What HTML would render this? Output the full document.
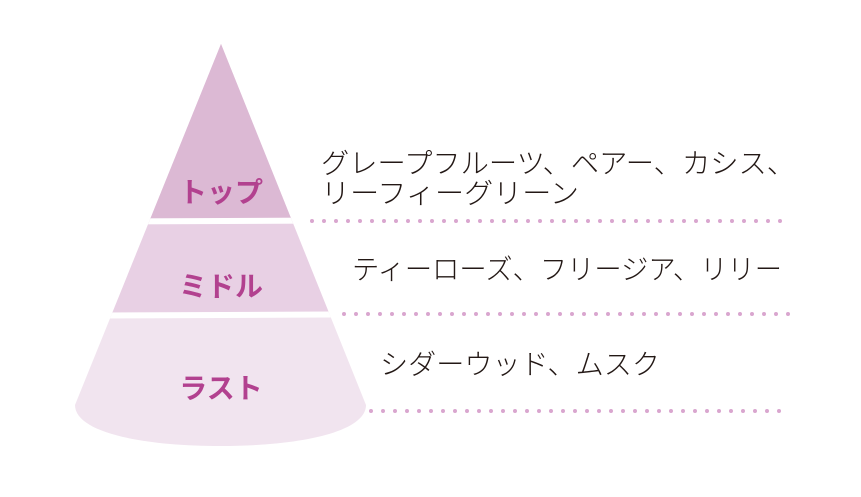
<!DOCTYPE html>
<html><head><meta charset="utf-8"><style>
html,body{margin:0;padding:0;background:#fff;}
body{width:861px;height:497px;overflow:hidden;position:relative;}
svg{position:absolute;left:0;top:0;}
.t{font-family:"Liberation Sans","Noto Sans CJK JP",sans-serif;font-weight:300;fill:#231815;font-size:28px;}
.l{font-family:"Liberation Sans","Noto Sans CJK JP",sans-serif;font-weight:700;fill:#b2418f;font-size:28px;}
</style></head><body>
<svg width="861" height="497" viewBox="0 0 861 497">
<defs>
<clipPath id="cone"><path d="M221,44 L366,405 C366,432 300,446 221,446 C140,446 75,432 75,405 Z"/></clipPath>
</defs>
<g clip-path="url(#cone)">
<rect x="0" y="0" width="861" height="497" fill="#f1e4ef"/>
<path d="M0,0 H861 V310 L0,314 Z" fill="#e8d0e4"/>
<path d="M0,0 H861 V216 L0,220 Z" fill="#dcb9d4"/>
<path d="M0,222 L861,218" stroke="#fff" stroke-width="6" fill="none"/>
<path d="M0,316 L861,312" stroke="#fff" stroke-width="6" fill="none"/>
</g>
<text class="l" x="221" y="202" text-anchor="middle">トップ</text>
<text class="l" x="221" y="296" text-anchor="middle">ミドル</text>
<text class="l" x="221" y="398" text-anchor="middle">ラスト</text>
<g stroke="#d9a6cf" stroke-width="4" stroke-linecap="round" stroke-dasharray="0 12">
<line x1="312" y1="221" x2="786" y2="221"/>
<line x1="344" y1="314" x2="790" y2="314"/>
<line x1="371" y1="411" x2="790" y2="411"/>
</g>
<text class="t" x="321" y="173" textLength="474" lengthAdjust="spacingAndGlyphs">グレープフルーツ、ペアー、カシス、</text>
<text class="t" x="321" y="203" textLength="258" lengthAdjust="spacingAndGlyphs">リーフィーグリーン</text>
<text class="t" x="352" y="279" textLength="430" lengthAdjust="spacingAndGlyphs">ティーローズ、フリージア、リリー</text>
<text class="t" x="380" y="374" textLength="280" lengthAdjust="spacingAndGlyphs">シダーウッド、ムスク</text>
</svg>
</body></html>
